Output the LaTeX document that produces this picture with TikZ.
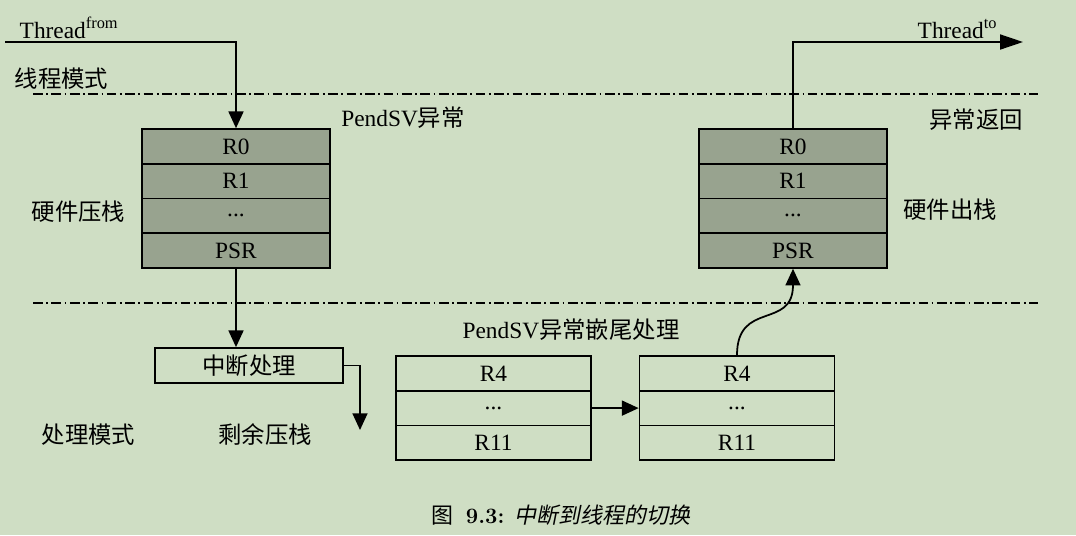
\documentclass[tikz,border=0pt]{standalone}
\usepackage{fontspec}
\usepackage{tikz}
\usetikzlibrary{arrows.meta}
\newfontfamily\tms{Liberation Serif}
\newfontfamily\cjk{Noto Sans CJK SC}
\newfontfamily\cjkit[FakeSlant=0.2]{Noto Sans CJK SC}
\definecolor{bgcol}{RGB}{207,222,196}
\definecolor{stackcol}{RGB}{152,163,143}

\begin{document}
\begin{tikzpicture}[x=0.02cm, y=-0.02cm, line width=1pt,
        >={Triangle[length=9.5pt,width=8.5pt]},
        font=\fontsize{13.3}{15}\selectfont\tms,
        reg/.style={draw, fill=stackcol, minimum width=3.76cm, minimum height=0.694cm, inner sep=0pt},
        low/.style={draw, minimum width=3.9cm, minimum height=0.694cm, inner sep=0pt},
        modeline/.style={line width=0.6pt, dash pattern=on 5.5pt off 2pt on 1pt off 2pt}]
        \path[use as bounding box, fill=bgcol] (0,0) rectangle (1076,535);
        % mode borders
        \draw[modeline] (33,94) -- (1038,94);
        \draw[modeline] (33,303) -- (1038,303);
        % hardware stacking
        \node[reg] (a0) at (236,146.4) {R0};  \node[reg] (b0) at (793,146.4) {R0};
        \node[reg] (a1) at (236,181.1) {R1};  \node[reg] (b1) at (793,181.1) {R1};
        \node[reg] (a2) at (236,215.8) {...}; \node[reg] (b2) at (793,215.8) {...};
        \node[reg] (a3) at (236,250.5) {PSR}; \node[reg] (b3) at (793,250.5) {PSR};
        % remaining stacking
        \node[low] (c0) at (493.5,373.4) {R4};  \node[low] (d0) at (737,373.4) {R4};
        \node[low] (c1) at (493.5,408.1) {...}; \node[low] (d1) at (737,408.1) {...};
        \node[low] (c2) at (493.5,442.8) {R11}; \node[low] (d2) at (737,442.8) {R11};
        \node[draw, minimum width=3.76cm, minimum height=0.7cm, inner sep=0pt] (isr) at (249,365.5) {\cjk 中断处理};
        % labels
        \node[anchor=base west] (thf) at (13,38) {Thread\textsuperscript{from}};
        \node[anchor=base west] (tht) at (911,38) {Thread\textsuperscript{to}};
        \node (thm) at (61.5,79) {\cjk 线程模式};
        \node (hdm) at (88.5,435) {\cjk 处理模式};
        \node (hwp) at (78.5,212) {\cjk 硬件压栈};
        \node (hwo) at (950,210) {\cjk 硬件出栈};
        \node (exr) at (976,120) {\cjk 异常返回};
        \node (rmp) at (265,435) {\cjk 剩余压栈};
        \node (pex) at (403,118) {PendSV{\cjk 异常}};
        \node (ptl) at (571,330) {PendSV{\cjk 异常嵌尾处理}};
        \node (cap) at (561,515) {\fontsize{12.5}{14}\selectfont{\cjk 图}\hspace{0.55em}{\normalfont\bfseries 9.3:}\hspace{0.45em}{\cjkit 中断到线程的切换}};
        \coordinate (from) at (5,42);
        \coordinate (to) at (1023,42);
        \coordinate (tail) at (360,430);
        % connectors
        \draw[->] (from) -| (a0.north);
        \draw[-{Triangle[length=13pt,width=8.5pt]}] (b0.north) |- (to);
        \draw[->] (a3.south) -- (a3.south |- isr.north);
        \draw[->] (isr.east) -| (tail);
        \draw[->] (c1.east) -- (d1.west);
        \draw[->] (d0.north) .. controls (737,300) and (793,330) .. (b3.south);
    \end{tikzpicture}
\end{document}
